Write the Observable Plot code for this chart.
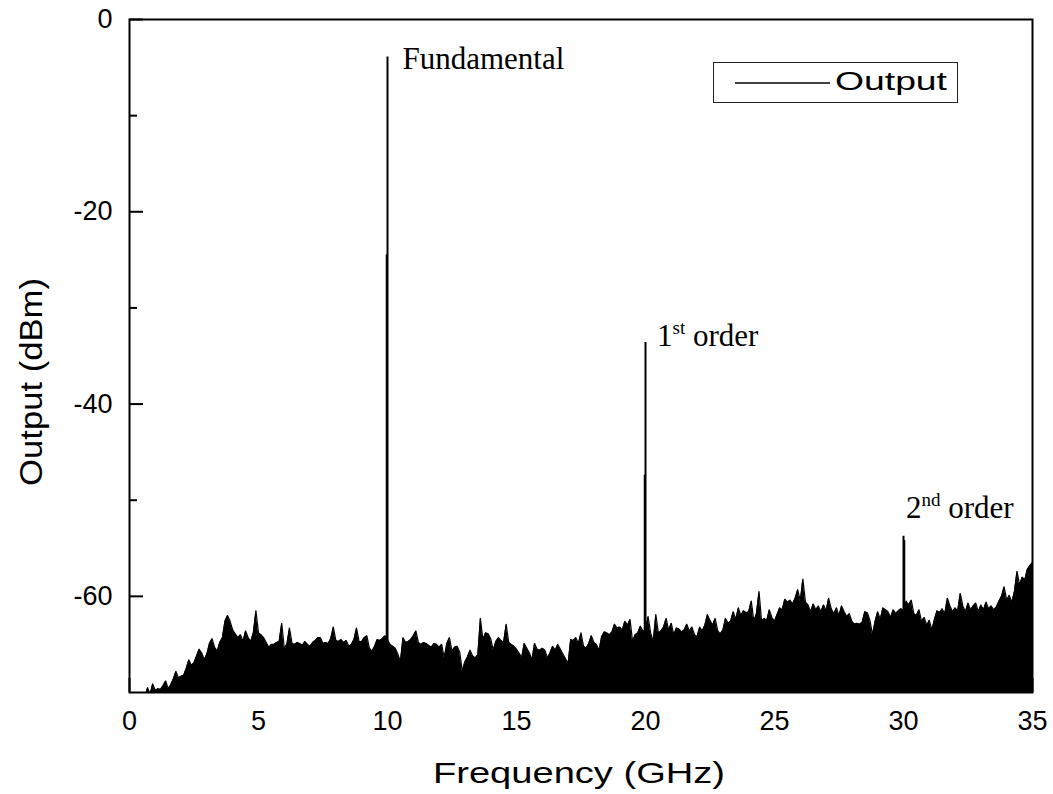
<!DOCTYPE html>
<html><head><meta charset="utf-8">
<script src="https://cdn.jsdelivr.net/npm/d3@7"></script>
<script src="https://cdn.jsdelivr.net/npm/@observablehq/plot@0.6"></script>
<style>body{margin:0;background:#fff} #chart{width:1053px;height:794px}</style>
</head><body><div id="chart"></div>
<script>
// ---- data ----
const noiseStartGHz = 0;
const noiseStepGHz = 0.1;
const noiseDbm = [
  -71, -71, -71, -71, -71, -71, -70.5, -69.5, -70.2, -69.1,
  -69.8, -69.6, -69.7, -69.3, -68.8, -69.6, -69.2, -68.6, -67.8, -68.5,
  -68.3, -68.2, -67.5, -66.6, -67.2, -66.9, -66.2, -65.5, -65.9, -66.6,
  -66.0, -64.9, -64.4, -65.3, -65.7, -64.8, -64.3, -62.6, -62.0, -62.6,
  -63.5, -63.9, -64.3, -64.0, -64.7, -63.6, -64.3, -64.7, -63.8, -61.5,
  -63.8, -64.0, -64.3, -64.8, -65.3, -65.0, -65.0, -64.8, -64.7, -62.8,
  -65.4, -65.0, -63.3, -64.9, -65.0, -64.8, -64.9, -65.1, -64.7, -65.0,
  -65.2, -64.8, -64.6, -64.3, -64.3, -64.9, -64.8, -64.9, -64.4, -63.2,
  -64.6, -64.7, -64.5, -64.8, -64.6, -65.2, -65.0, -64.5, -63.3, -64.7,
  -64.7, -64.3, -64.1, -65.4, -65.7, -65.2, -64.5, -64.6, -64.4, -64.1,
  -64.5, -65.0, -65.2, -65.4, -66.0, -66.8, -64.3, -64.8, -64.7, -64.5,
  -64.1, -63.6, -64.8, -65.0, -64.8, -64.9, -65.1, -65.3, -64.9, -65.0,
  -65.3, -65.0, -66.4, -64.9, -64.3, -65.7, -65.3, -65.2, -65.8, -67.8,
  -66.8, -66.3, -65.6, -66.2, -66.4, -66.1, -62.3, -64.5, -63.8, -63.9,
  -64.4, -65.6, -64.7, -64.3, -64.6, -64.8, -62.9, -64.8, -65.0, -65.2,
  -65.5, -65.9, -66.4, -64.9, -65.4, -65.9, -66.6, -64.9, -65.5, -65.6,
  -65.4, -65.6, -66.4, -65.9, -65.2, -65.6, -65.0, -65.5, -66.0, -66.5,
  -67.0, -64.5, -64.6, -64.3, -64.9, -63.8, -65.2, -65.4, -64.9, -64.1,
  -64.8, -65.0, -65.6, -64.2, -63.7, -63.8, -64.0, -63.7, -62.9, -63.3,
  -63.2, -63.5, -62.6, -63.0, -62.4, -64.7, -64.0, -63.8, -63.1, -63.6,
  -63.5, -62.1, -63.8, -64.7, -61.9, -63.8, -63.6, -63.2, -62.3, -63.5,
  -62.8, -64.0, -63.3, -63.4, -63.7, -63.5, -62.9, -63.6, -63.2, -64.0,
  -64.2, -63.2, -63.6, -63.0, -61.9, -62.5, -63.0, -62.3, -63.6, -63.9,
  -63.5, -62.3, -62.8, -62.6, -61.6, -62.4, -61.2, -62.0, -61.5, -61.7,
  -61.6, -60.5, -62.6, -61.8, -59.5, -62.6, -62.3, -62.5, -61.4, -62.2,
  -62.6, -61.9, -61.2, -61.4, -60.3, -60.6, -60.4, -60.8, -60.2, -59.3,
  -60.5, -58.2, -60.6, -60.9, -61.6, -60.8, -61.4, -61.0, -61.6, -60.9,
  -61.5, -60.2, -61.3, -61.8, -61.2, -62.0, -61.0, -61.6, -62.1, -61.8,
  -62.6, -62.9, -62.8, -62.9, -62.7, -61.6, -61.7, -62.5, -64.0, -62.6,
  -61.6, -62.4, -61.2, -61.4, -61.6, -62.2, -61.4, -61.8, -61.5, -61.3,
  -61.5, -60.5, -60.9, -60.4, -61.8, -62.0, -61.4, -62.6, -62.2, -63.0,
  -62.5, -63.5, -62.4, -61.5, -61.7, -61.3, -61.8, -60.2, -61.0, -61.6,
  -61.2, -61.5, -59.7, -61.0, -61.6, -60.7, -61.4, -61.0, -60.7, -61.6,
  -60.9, -61.4, -60.6, -61.3, -61.0, -61.4, -61.1, -60.5, -60.0, -59.0,
  -60.4, -59.9, -60.6, -59.5, -57.4, -58.8, -58.0, -58.3, -57.2, -56.8,
  -56.5
];
const peakGHz = [10, 20, 30];
const peakDbm = [-3.9, -33.6, -53.75];
const peakLabels = ["Fundamental", "1st order", "2nd order"];
const shoulderGHz = [9.96, 19.96, 30.04];
const shoulderDbm = [-24.5, -47.4, -54.2];
const xTicks = [0, 5, 10, 15, 20, 25, 30, 35];
const xMinorTicks = [2.5, 7.5, 12.5, 17.5, 22.5, 27.5, 32.5];
const yTicks = [0, -20, -40, -60];
const yMinorTicks = [-10, -30, -50];
const xDomain = [0, 35];
const yDomain = [-70, 0];
const xTitle = "Frequency (GHz)";
const yTitle = "Output (dBm)";
const seriesName = "Output";

// ---- derived tables ----
const noise = noiseDbm.map((v, i) => ({f: +(noiseStartGHz + i * noiseStepGHz).toFixed(2), v}));
const peaks = peakGHz.map((f, i) => ({f, v: peakDbm[i], label: peakLabels[i]}));
const shoulders = shoulderGHz.map((f, i) => ({f, v: shoulderDbm[i]}));

const W = 1053, H = 794, mL = 129, mR = 21, mT = 19, mB = 102;
const plotW = W - mL - mR, plotH = H - mT - mB;
const serif = "'Liberation Serif', 'Times New Roman', serif";

const chart = Plot.plot({
  width: W, height: H,
  marginLeft: mL, marginRight: mR, marginTop: mT, marginBottom: mB,
  style: {fontFamily: "'Liberation Sans', Arial, sans-serif", background: "white", color: "black"},
  x: {domain: xDomain},
  y: {domain: yDomain},
  marks: [
    Plot.areaY(noise, {x: "f", y1: yDomain[0], y2: "v", fill: "black", clip: true}),
    Plot.line(noise, {x: "f", y: "v", stroke: "black", strokeWidth: 1.2, clip: true}),
    Plot.ruleX(shoulders, {x: "f", y1: yDomain[0], y2: "v", stroke: "black", strokeWidth: 1.5}),
    Plot.ruleX(peaks, {x: "f", y1: yDomain[0], y2: "v", stroke: "black", strokeWidth: 2}),
    Plot.tickY(yTicks, {y: d => d, insetRight: plotW - 14, stroke: "black", strokeWidth: 2}),
    Plot.tickY(yMinorTicks, {y: d => d, insetRight: plotW - 8, stroke: "black", strokeWidth: 2}),
    Plot.tickX(xTicks, {x: d => d, insetTop: plotH - 14, stroke: "black", strokeWidth: 2}),
    Plot.tickX(xMinorTicks, {x: d => d, insetTop: plotH - 8, stroke: "black", strokeWidth: 2}),
    Plot.axisX({ticks: xTicks, tickSize: 0, tickPadding: 18, fontSize: 27, tickFormat: d => String(d), label: null}),
    Plot.axisY({ticks: yTicks, tickSize: 0, tickPadding: 17, fontSize: 27, tickFormat: d => String(d), label: null}),
    Plot.frame({stroke: "black", strokeWidth: 2}),
    Plot.text(peaks.slice(0, 1), {x: "f", y: "v", text: "label", textAnchor: "start", dx: 15, dy: 1.6, fontSize: 31, fontFamily: serif, fill: "black"}),
    Plot.text(peaks.slice(1, 2), {x: "f", y: "v", text: "label", textAnchor: "start", dx: 11.5, dy: -6.9, fontSize: 31, fontFamily: serif, fill: "black"}),
    Plot.text(peaks.slice(2, 3), {x: "f", y: "v", text: "label", textAnchor: "start", dx: 2.5, dy: -27.9, fontSize: 31, fontFamily: serif, fill: "black"})
  ]
});

const svg = d3.select(chart);
// superscripts for ordinal labels
svg.selectAll("text").each(function () {
  const t = this.textContent;
  const m = t.match(/^(\d)(st|nd|rd|th) (.*)$/);
  if (!m) return;
  const s = d3.select(this);
  s.text(null);
  s.append("tspan").text(m[1]);
  s.append("tspan").attr("font-size", 19).attr("dy", -12).text(m[2]);
  s.append("tspan").attr("dy", 12).text(" " + m[3]);
});

// axis titles
svg.append("text")
  .attr("transform", "translate(42,382) rotate(-90)")
  .attr("text-anchor", "middle")
  .attr("font-size", 32)
  .attr("textLength", 208).attr("lengthAdjust", "spacingAndGlyphs")
  .attr("fill", "black")
  .text(yTitle);
svg.append("text")
  .attr("x", 579).attr("y", 783)
  .attr("text-anchor", "middle")
  .attr("font-size", 30)
  .attr("textLength", 292).attr("lengthAdjust", "spacingAndGlyphs")
  .attr("fill", "black")
  .text(xTitle);

// legend
const lg = svg.append("g");
lg.append("rect").attr("x", 713.5).attr("y", 62.5).attr("width", 244).attr("height", 40)
  .attr("fill", "white").attr("stroke", "#222").attr("stroke-width", 1);
lg.append("line").attr("x1", 735).attr("x2", 830).attr("y1", 83).attr("y2", 83)
  .attr("stroke", "black").attr("stroke-width", 1.5);
lg.append("text").attr("x", 835).attr("y", 89.5).attr("font-size", 26)
  .attr("text-anchor", "start")
  .attr("textLength", 112).attr("lengthAdjust", "spacingAndGlyphs")
  .attr("fill", "black").text(seriesName);

document.getElementById("chart").appendChild(chart);
</script>
</body></html>
